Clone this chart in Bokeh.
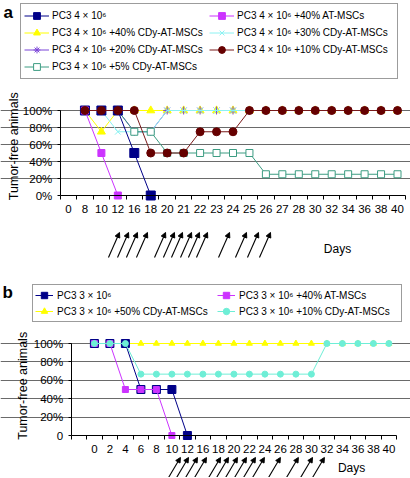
import numpy as np
from bokeh.plotting import figure
from bokeh.layouts import column
from bokeh.models import (FixedTicker, Legend, LegendItem, Label, Arrow,
                          NormalHead, ColumnDataSource, Range1d)
from bokeh.embed import file_html
from bokeh.resources import INLINE

FONT = "Liberation Sans"
N = None

# ---------------- Panel a data ----------------
days_a = ["0", "8", "10", "12", "16", "18", "20", "21", "22", "23", "24",
          "25", "26", "27", "28", "30", "32", "34", "36", "38", "40"]
a_pc3   = [N, 100, 100, 100, 50, 0, N, N, N, N, N, N, N, N, N, N, N, N, N, N, N]
a_at40  = [N, 100, 50, 0, N, N, N, N, N, N, N, N, N, N, N, N, N, N, N, N, N]
a_cdy40 = [N, 100, 75, 100, 100, 100, 100, 100, 100, 100, 100, 100, 100, 100, 100, 100, 100, 100, 100, 100, 100]
a_cdy30 = [N, 100, 100, 75, 75, 75, 100, 100, 100, 100, 100, 100, 100, 100, 100, 100, 100, 100, 100, 100, 100]
a_cdy20 = [N, 100, 100, 100, 75, 75, 100, 100, 100, 100, 100, 100, 100, 100, 100, 100, 100, 100, 100, 100, 100]
a_cdy5  = [N, 100, 100, 100, 75, 75, 50, 50, 50, 50, 50, 50, 25, 25, 25, 25, 25, 25, 25, 25, 25]
a_cdy10 = [N, 100, 100, 100, 100, 50, 50, 50, 75, 75, 75, 100, 100, 100, 100, 100, 100, 100, 100, 100, 100]
a_arrows = [3.10, 3.65, 4.19, 4.80, 5.90, 6.44, 6.93, 7.48, 7.96, 8.45, 9.79, 10.82, 11.55, 12.28]

# ---------------- Panel b data ----------------
days_b = ["0", "2", "4", "6", "8", "10", "12", "16", "18", "20", "22", "24",
          "26", "28", "30", "32", "34", "36", "38", "40"]
b_pc3   = [100, 100, 100, 50, 50, 50, 0, N, N, N, N, N, N, N, N, N, N, N, N, N]
b_at40  = [100, 100, 50, 50, 50, 0, N, N, N, N, N, N, N, N, N, N, N, N, N, N]
b_cdy50 = [100, 100, 100, 100, 100, 100, 100, 100, 100, 100, 100, 100, 100, 100, 100, 100, 100, 100, 100, 100]
b_cdy10 = [100, 100, 100, 66.7, 66.7, 66.7, 66.7, 66.7, 66.7, 66.7, 66.7, 66.7, 66.7, 66.7, 66.7, 100, 100, 100, 100, 100]
b_arrows = [6.55, 7.07, 7.65, 8.23, 9.14, 9.65, 10.23, 10.81, 11.39, 11.97, 13.0, 14.16, 15.07, 15.84]

y_ticks = [0, 20, 40, 60, 80, 100]


def arr(v):
    return np.array([np.nan if x is None else x for x in v], dtype=float)


def base_fig(width, height, xr, yr, nslots, labels, first_slot, ylab0):
    p = figure(width=width, height=height, output_backend="svg", toolbar_location=None,
               x_range=Range1d(*xr), y_range=Range1d(*yr), min_border=0,
               min_border_left=0, min_border_right=0, min_border_top=0,
               min_border_bottom=0, tools="")
    p.outline_line_color = None
    p.background_fill_color = "white"
    p.border_fill_color = "white"
    p.xgrid.visible = False
    p.ygrid.ticker = FixedTicker(ticks=[20, 40, 60, 80, 100])
    p.ygrid.grid_line_color = "#6a6a6a"
    p.ygrid.grid_line_width = 1
    p.ygrid.bounds = (-0.5, nslots - 0.5)
    # x axis
    xt = list(range(first_slot, first_slot + len(labels)))
    p.xaxis.ticker = FixedTicker(ticks=xt, minor_ticks=[k - 0.5 for k in range(nslots + 1)])
    p.xaxis.major_label_overrides = {t: l for t, l in zip(xt, labels)}
    p.xaxis.fixed_location = 0
    p.xaxis.bounds = (-0.5, nslots - 0.5)
    p.xaxis.major_tick_line_color = None
    p.xaxis.major_tick_out = 0
    p.xaxis.major_tick_in = 0
    p.xaxis.minor_tick_line_color = "black"
    p.xaxis.minor_tick_out = 4
    p.xaxis.minor_tick_in = 0
    p.xaxis.major_label_standoff = 5
    # y axis
    p.yaxis.ticker = FixedTicker(ticks=y_ticks)
    p.yaxis.major_label_overrides = {t: (ylab0 if t == 0 else f"{t}%") for t in y_ticks}
    p.yaxis.fixed_location = -0.5
    p.yaxis.bounds = (0, 100)
    p.yaxis.minor_tick_line_color = None
    p.yaxis.major_tick_out = 3
    p.yaxis.major_tick_in = 0
    p.yaxis.major_label_standoff = 5
    for ax in (p.xaxis, p.yaxis):
        ax.axis_line_color = "black"
        ax.major_label_text_font = FONT
        ax.major_label_text_font_size = "11.5px"
        ax.major_label_text_color = "black"
    return p


def series(p, x, y, color, marker, size, fill=None, lw=1.0, lcolor=None):
    src = ColumnDataSource(dict(x=x, y=arr(y)))
    lr = p.line("x", "y", source=src, line_color=(lcolor or color), line_width=lw)
    sr = p.scatter("x", "y", source=src, marker=marker, size=size,
                   line_color=color, fill_color=(color if fill is None else fill),
                   line_width=1)
    return [lr, sr]


def legend(items, loc, nrows, gw, gh, pad, standoff, lw):
    return Legend(items=items, location=loc, orientation="vertical", nrows=nrows,
                  glyph_width=gw, glyph_height=gh, label_height=gh, label_width=lw,
                  spacing=0, padding=pad, margin=0, label_standoff=standoff,
                  label_text_font=FONT, label_text_font_size="10px",
                  label_text_color="black", border_line_color="#3a3a3a",
                  border_line_width=1, background_fill_color="white")


# =============== Panel a ===============
HA = 270
sa, x0a = 16.45, 68.0          # px per slot, page x of slot 0
ka, y100a, y0a = 0.85, 110.0, 195.0
xr_a = (-x0a / sa, (410 - x0a) / sa)
yr_a = (-(HA - y0a) / ka, 100 + y100a / ka)
xa = list(range(len(days_a)))
pa = base_fig(410, HA, xr_a, yr_a, len(days_a), days_a, 0, "0%")

r_cdy40 = series(pa, xa, a_cdy40, "#FFFF00", "triangle", 8)
r_cdy20 = series(pa, xa, a_cdy20, "#7B44D8", "asterisk", 8)
r_cdy30 = series(pa, xa, a_cdy30, "#8CF2F2", "x", 8)
r_cdy5 = series(pa, xa, a_cdy5, "#3C9C82", "square", 7, fill="white")
r_pc3 = series(pa, xa, a_pc3, "#000088", "square", 9)
r_at40 = series(pa, xa, a_at40, "#CC33FF", "square", 7)
r_cdy10 = series(pa, xa, a_cdy10, "#660000", "circle", 8, lcolor="#7a1a1a")

items_a = [
    LegendItem(label="PC3 4 × 10⁶", renderers=r_pc3),
    LegendItem(label="PC3 4 × 10⁶ +40% CDy-AT-MSCs", renderers=r_cdy40),
    LegendItem(label="PC3 4 × 10⁶ +20% CDy-AT-MSCs", renderers=r_cdy20),
    LegendItem(label="PC3 4 × 10⁶ +5% CDy-AT-MSCs", renderers=r_cdy5),
    LegendItem(label="PC3 4 × 10⁶ +40% AT-MSCs", renderers=r_at40),
    LegendItem(label="PC3 4 × 10⁶ +30% CDy-AT-MSCs", renderers=r_cdy30),
    LegendItem(label="PC3 4 × 10⁶ +10% CDy-AT-MSCs", renderers=r_cdy10),
]
pa.add_layout(legend(items_a, (20, HA - 79), 4, 25, 17, 3, 3, 157))

src_arr_a = ColumnDataSource(dict(xe=a_arrows, ye=[-43.5] * len(a_arrows),
                                  xs=[v - 0.67 for v in a_arrows], ys=[-72.9] * len(a_arrows)))
pa.add_layout(Arrow(source=src_arr_a, x_start="xs", y_start="ys", x_end="xe", y_end="ye",
                    line_color="black", line_width=1.1,
                    end=NormalHead(size=5, fill_color="black", line_color="black")))
pa.add_layout(Label(x=16.35, y=-62.4, text="Days", text_font=FONT, text_font_size="12px",
                    text_align="center", text_baseline="middle", text_color="black"))
pa.add_layout(Label(x=13, y=58, x_units="screen", text="Tumor-free animals", angle=np.pi / 2,
                    text_font=FONT, text_font_size="12.5px", text_align="center",
                    text_baseline="middle", text_color="black"))
pa.add_layout(Label(x=3, y=HA - 2, x_units="screen", y_units="screen", text="a",
                    text_font=FONT, text_font_size="17px", text_font_style="bold",
                    text_align="left", text_baseline="top", text_color="black"))

# =============== Panel b ===============
HB = 207
TB = HA                       # page y of top of panel b figure
sb, x0b = 15.5, 78.4
kb, y100b, y0b = 0.92, 343.0, 435.0
xr_b = (-x0b / sb, (410 - x0b) / sb)
yr_b = (-(TB + HB - y0b) / kb, 100 + (y100b - TB) / kb)
xb = list(range(1, len(days_b) + 1))
pb = base_fig(410, HB, xr_b, yr_b, len(days_b) + 1, days_b, 1, "0")

s_cdy50 = series(pb, xb, b_cdy50, "#FFFF00", "triangle", 6)
s_pc3 = series(pb, xb, b_pc3, "#000088", "square", 8)
s_at40 = series(pb, xb, b_at40, "#CC33FF", "square", 6)
s_cdy10 = series(pb, xb, b_cdy10, "#6EEED6", "circle", 6)

items_b = [
    LegendItem(label="PC3 3 × 10⁶", renderers=s_pc3),
    LegendItem(label="PC3 3 × 10⁶ +50% CDy-AT-MSCs", renderers=s_cdy50),
    LegendItem(label="PC3 3 × 10⁶ +40% AT-MSCs", renderers=s_at40),
    LegendItem(label="PC3 3 × 10⁶ +10% CDy-AT-MSCs", renderers=s_cdy10),
]
pb.add_layout(legend(items_b, (32, TB + HB - 322), 2, 18, 16, 2, 4, 160))

src_arr_b = ColumnDataSource(dict(xe=b_arrows, ye=[-23.9] * len(b_arrows),
                                  xs=[v - 0.84 for v in b_arrows], ys=[-47.8] * len(b_arrows)))
pb.add_layout(Arrow(source=src_arr_b, x_start="xs", y_start="ys", x_end="xe", y_end="ye",
                    line_color="black", line_width=1.1,
                    end=NormalHead(size=5, fill_color="black", line_color="black")))
pb.add_layout(Label(x=17.59, y=-35.0, text="Days", text_font=FONT, text_font_size="12px",
                    text_align="center", text_baseline="middle", text_color="black"))
pb.add_layout(Label(x=22, y=54, x_units="screen", text="Tumor-free animals", angle=np.pi / 2,
                    text_font=FONT, text_font_size="12.5px", text_align="center",
                    text_baseline="middle", text_color="black"))
pb.add_layout(Label(x=2, y=TB + HB - 282, x_units="screen", y_units="screen", text="b",
                    text_font=FONT, text_font_size="17px", text_font_style="bold",
                    text_align="left", text_baseline="top", text_color="black"))

layout = column(pa, pb, spacing=0)
open("out.html", "w").write(file_html(layout, INLINE))
